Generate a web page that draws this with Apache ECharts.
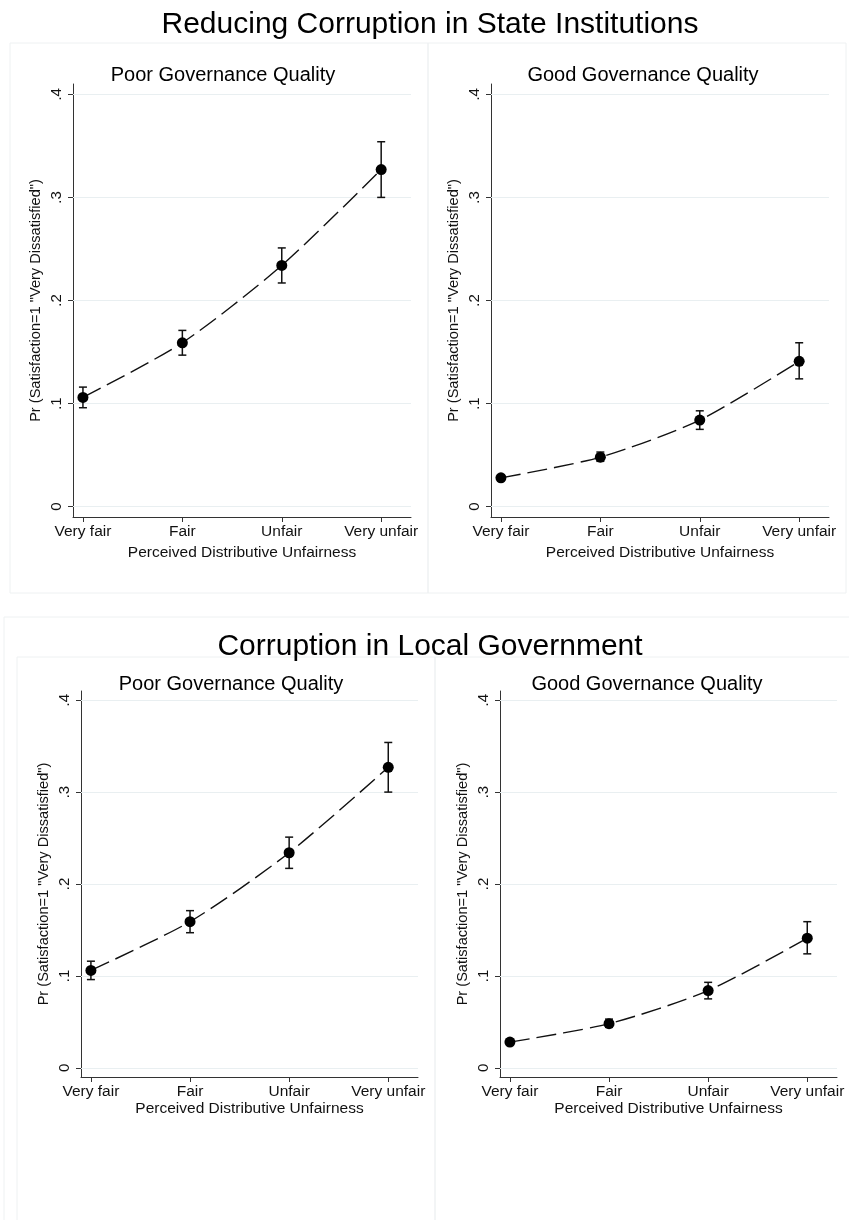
<!DOCTYPE html>
<html>
<head>
<meta charset="utf-8">
<script src="https://cdn.jsdelivr.net/npm/echarts@6/dist/echarts.min.js"></script>
<style>
  html, body { margin: 0; padding: 0; background: #fff; }
  #main { width: 849px; height: 1220px; }
</style>
</head>
<body>
<div id="main"></div>
<script>
// categories on the x axis
const categories = ['Very fair', 'Fair', 'Unfair', 'Very unfair'];
const xPos = [1, 2, 3, 4];
const yTicks = [0, 0.1, 0.2, 0.3, 0.4];

// poor governance quality: predicted prob + 95% CI
const poorMean = [0.106, 0.159, 0.234, 0.327];
const poorLow = [0.096, 0.147, 0.217, 0.300];
const poorHigh = [0.116, 0.171, 0.251, 0.354];

// good governance quality
const goodMean = [0.028, 0.048, 0.084, 0.141];
const goodLow = [0.026, 0.044, 0.075, 0.124];
const goodHigh = [0.031, 0.053, 0.093, 0.159];

const FONT = "'Liberation Sans', Arial, Helvetica, sans-serif";

// four panels, top row = state institutions, bottom row = local government
const panels = [
    { grid: { left: 73, top: 84, width: 338, height: 433 }, mean: poorMean, low: poorLow, high: poorHigh, xGap: 28 },
    { grid: { left: 491, top: 84, width: 338, height: 433 }, mean: goodMean, low: goodLow, high: goodHigh, xGap: 28 },
    { grid: { left: 81, top: 691, width: 337, height: 386 }, mean: poorMean, low: poorLow, high: poorHigh, xGap: 24 },
    { grid: { left: 500, top: 691, width: 337, height: 386 }, mean: goodMean, low: goodLow, high: goodHigh, xGap: 24 }
];

var myChart = echarts.init(document.getElementById('main'));

var grids = [], xAxes = [], yAxes = [], series = [];

panels.forEach(function (p, i) {
    grids.push(p.grid);
    xAxes.push({
        gridIndex: i,
        type: 'value',
        min: 0.9,
        max: 4.3,
        name: 'Perceived Distributive Unfairness',
        nameLocation: 'middle',
        nameGap: p.xGap,
        nameTextStyle: { fontSize: 15.5, color: '#111', fontFamily: FONT },
        axisLine: { onZero: false, lineStyle: { color: '#333', width: 1 } },
        axisTick: { customValues: xPos, length: 5, lineStyle: { color: '#333' } },
        axisLabel: {
            customValues: xPos,
            margin: 7,
            fontSize: 15.5,
            color: '#111',
            fontFamily: FONT,
            formatter: function (v) { return categories[Math.round(v) - 1]; }
        },
        splitLine: { show: false }
    });
    yAxes.push({
        gridIndex: i,
        type: 'value',
        min: -0.01,
        max: 0.41,
        name: 'Pr (Satisfaction=1 "Very Dissatisfied")',
        nameLocation: 'middle',
        nameRotate: 90,
        nameGap: 30,
        nameTextStyle: { fontSize: 14.6, color: '#111', fontFamily: FONT },
        axisLine: { show: true, onZero: false, lineStyle: { color: '#333', width: 1 } },
        axisTick: { show: true, customValues: yTicks, length: 5, lineStyle: { color: '#333' } },
        axisLabel: {
            customValues: yTicks,
            rotate: 90,
            margin: 9,
            fontSize: 15,
            color: '#111',
            fontFamily: FONT,
            formatter: function (v) { return v === 0 ? '0' : String(v).replace('0.', '.'); }
        },
        splitLine: { show: false }
    });

    // error bars with caps
    series.push({
        type: 'custom',
        xAxisIndex: i,
        yAxisIndex: i,
        z: 2,
        data: xPos.map(function (x, k) { return [x, p.low[k], p.high[k]]; }),
        renderItem: function (params, api) {
            var lo = api.coord([api.value(0), api.value(1)]);
            var hi = api.coord([api.value(0), api.value(2)]);
            var w = 4;
            var st = { stroke: '#111', lineWidth: 1.5 };
            return {
                type: 'group',
                children: [
                    { type: 'line', shape: { x1: lo[0], y1: lo[1], x2: hi[0], y2: hi[1] }, style: st },
                    { type: 'line', shape: { x1: lo[0] - w, y1: lo[1], x2: lo[0] + w, y2: lo[1] }, style: st },
                    { type: 'line', shape: { x1: hi[0] - w, y1: hi[1], x2: hi[0] + w, y2: hi[1] }, style: st }
                ]
            };
        },
        // faint horizontal grid lines at the tick values
        markLine: {
            silent: true,
            z: 1,
            symbol: 'none',
            label: { show: false },
            lineStyle: { color: '#e9eff1', type: 'solid', width: 1 },
            data: yTicks.map(function (t) { return { yAxis: t }; })
        }
    });

    // dashed connecting line + markers
    series.push({
        type: 'line',
        xAxisIndex: i,
        yAxisIndex: i,
        z: 3,
        smooth: 0.25,
        data: xPos.map(function (x, k) { return [x, p.mean[k]]; }),
        symbol: 'circle',
        symbolSize: 11,
        itemStyle: { color: '#000' },
        lineStyle: { color: '#111', width: 1.4, type: [20, 7] }
    });
});

var option = {
    backgroundColor: '#fff',
    animation: false,
    title: [
        { text: 'Reducing Corruption in State Institutions', left: 425, top: 5, textAlign: 'center',
          textStyle: { fontSize: 30, fontWeight: 'normal', color: '#000', fontFamily: FONT } },
        { text: 'Poor Governance Quality', left: 218, top: 60, textAlign: 'center',
          textStyle: { fontSize: 20, fontWeight: 'normal', color: '#000', fontFamily: FONT } },
        { text: 'Good Governance Quality', left: 638, top: 60, textAlign: 'center',
          textStyle: { fontSize: 20, fontWeight: 'normal', color: '#000', fontFamily: FONT } },
        { text: 'Corruption in Local Government', left: 425, top: 627, textAlign: 'center',
          textStyle: { fontSize: 30, fontWeight: 'normal', color: '#000', fontFamily: FONT } },
        { text: 'Poor Governance Quality', left: 226, top: 669, textAlign: 'center',
          textStyle: { fontSize: 20, fontWeight: 'normal', color: '#000', fontFamily: FONT } },
        { text: 'Good Governance Quality', left: 642, top: 669, textAlign: 'center',
          textStyle: { fontSize: 20, fontWeight: 'normal', color: '#000', fontFamily: FONT } }
    ],
    // faint panel frames like the stata graph regions
    graphic: [
        { type: 'rect', shape: { x: 10, y: 43, width: 418, height: 550 }, style: { fill: 'none', stroke: '#eef1f2', lineWidth: 1 }, z: -1 },
        { type: 'rect', shape: { x: 428, y: 43, width: 418, height: 550 }, style: { fill: 'none', stroke: '#eef1f2', lineWidth: 1 }, z: -1 },
        { type: 'rect', shape: { x: 4, y: 617, width: 860, height: 620 }, style: { fill: 'none', stroke: '#eef1f2', lineWidth: 1 }, z: -1 },
        { type: 'rect', shape: { x: 17, y: 657, width: 418, height: 580 }, style: { fill: 'none', stroke: '#eef1f2', lineWidth: 1 }, z: -1 },
        { type: 'rect', shape: { x: 435, y: 657, width: 430, height: 580 }, style: { fill: 'none', stroke: '#eef1f2', lineWidth: 1 }, z: -1 }
    ],
    grid: grids,
    xAxis: xAxes,
    yAxis: yAxes,
    series: series
};

myChart.setOption(option);
</script>
</body>
</html>
